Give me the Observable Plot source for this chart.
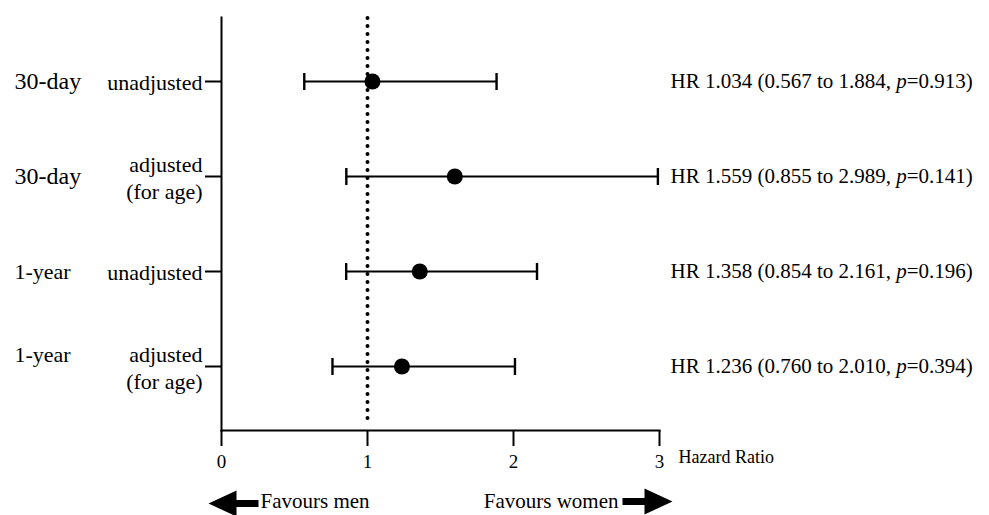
<!DOCTYPE html>
<html>
<head>
<meta charset="utf-8">
<script src="https://cdn.jsdelivr.net/npm/d3@7"></script>
<script src="https://cdn.jsdelivr.net/npm/@observablehq/plot@0.6"></script>
<style>
  html, body { margin: 0; padding: 0; background: #fff; }
  #chart svg { display: block; }
</style>
</head>
<body>
<div id="chart"></div>
<script>
// ---- data ----
const rowIds = ["30d-unadj", "30d-adj", "1y-unadj", "1y-adj"];
const periods = ["30-day", "30-day", "1-year", "1-year"];
const models = ["unadjusted", "adjusted\n(for age)", "unadjusted", "adjusted\n(for age)"];
const hrPoint = [1.034, 1.598, 1.358, 1.236];
const ciLow = [0.567, 0.855, 0.854, 0.760];
const ciHigh = [1.884, 2.989, 2.161, 2.010];
const hrLabels = [
  "HR 1.034 (0.567 to 1.884, p=0.913)",
  "HR 1.559 (0.855 to 2.989, p=0.141)",
  "HR 1.358 (0.854 to 2.161, p=0.196)",
  "HR 1.236 (0.760 to 2.010, p=0.394)"
];
const xTicks = [0, 1, 2, 3];
const xDomain = [0, 3];
const referenceHR = [1];
const axisTitle = "Hazard Ratio";
const favourMen = "Favours men";
const favourWomen = "Favours women";

const rows = rowIds.map((id, i) => ({
  id, period: periods[i], model: models[i],
  hr: hrPoint[i], lo: ciLow[i], hi: ciHigh[i], label: hrLabels[i]
}));
const modelById = Object.fromEntries(rows.map(d => [d.id, d.model]));

// ---- custom symbols ----
const capSymbol = {
  draw(ctx, size) {
    const r = Math.sqrt(size / Math.PI);
    ctx.moveTo(0, -r); ctx.lineTo(0, r);
  }
};
const arrowSymbol = {
  draw(ctx, size) {
    const s = Math.sqrt(size / Math.PI);
    const L = 2.5 * s, head = 2.8 * s, hh = 1.3 * s, sh = 0.35 * s;
    ctx.moveTo(-L, -sh);
    ctx.lineTo(L - head, -sh);
    ctx.lineTo(L - head, -hh);
    ctx.lineTo(L, 0);
    ctx.lineTo(L - head, hh);
    ctx.lineTo(L - head, sh);
    ctx.lineTo(-L, sh);
    ctx.closePath();
  }
};

const font = "'Liberation Serif', 'Times New Roman', serif";

const chart = Plot.plot({
  width: 989,
  height: 515,
  marginLeft: 221,
  marginRight: 330,
  marginTop: 17,
  marginBottom: 85,
  style: { fontFamily: font, color: "#000", background: "#fff", overflow: "visible" },
  x: { domain: xDomain, ticks: xTicks },
  y: { type: "point", domain: rowIds, padding: 0.67 },
  marks: [
    Plot.frame({ anchor: "left", stroke: "#000", strokeWidth: 2 }),
    Plot.frame({ anchor: "bottom", stroke: "#000", strokeWidth: 2 }),
    Plot.axisX({ ticks: xTicks, tickSize: 16, tickPadding: 8, fontSize: 19, strokeWidth: 2, label: null, tickFormat: d => String(d) }),
    Plot.axisY({ tickSize: 16, tickPadding: 3, fontSize: 22, lineHeight: 1.25, strokeWidth: 2, label: null, tickFormat: id => modelById[id] }),
    Plot.ruleX(referenceHR, { stroke: "#000", strokeWidth: 4, strokeDasharray: "0 8", strokeLinecap: "round", insetTop: 1, insetBottom: 7 }),
    Plot.ruleY(rows, { y: "id", x1: "lo", x2: "hi", stroke: "#000", strokeWidth: 2 }),
    Plot.dot(rows, { x: "lo", y: "id", symbol: capSymbol, r: 8.5, stroke: "#000", strokeWidth: 2.4, fill: "none" }),
    Plot.dot(rows, { x: "hi", y: "id", symbol: capSymbol, r: 8.5, stroke: "#000", strokeWidth: 2.4, fill: "none" }),
    Plot.dot(rows, { x: "hr", y: "id", r: 8, fill: "#000", stroke: "none" }),
    Plot.text(rows.slice(0, 3), { y: "id", text: "period", frameAnchor: "left", dx: -207, textAnchor: "start", fontSize: d => d.period === "30-day" ? 24 : 22, fill: "#000" }),
    Plot.text(rows.slice(3), { y: "id", text: "period", frameAnchor: "left", dx: -207, dy: -12, textAnchor: "start", fontSize: 22, fill: "#000" }),
    Plot.text(rows, { y: "id", text: "label", frameAnchor: "right", dx: 11, textAnchor: "start", fontSize: 21, fill: "#000" }),
    Plot.text([axisTitle], { text: d => d, frameAnchor: "bottom-right", dx: 19, dy: 32, textAnchor: "start", fontSize: 18, fill: "#000" }),
    Plot.dot([favourMen], { frameAnchor: "bottom-left", dx: 12, dy: 73, symbol: arrowSymbol, r: 10, rotate: 180, fill: "#000", stroke: "none" }),
    Plot.dot([favourWomen], { frameAnchor: "bottom-right", dx: -12, dy: 71, symbol: arrowSymbol, r: 10, fill: "#000", stroke: "none" }),
    Plot.text([favourMen], { text: d => d, frameAnchor: "bottom-left", dx: 39, dy: 77, textAnchor: "start", fontSize: 21, fill: "#000" }),
    Plot.text([favourWomen], { text: d => d, frameAnchor: "bottom-right", dx: -41, dy: 77, textAnchor: "end", fontSize: 21, fill: "#000" })
  ]
});

// italicise the "p" in the p-value labels
chart.querySelectorAll("text").forEach(t => {
  const s = t.textContent;
  const k = s.indexOf(", p=");
  if (k >= 0 && t.children.length === 0) {
    const ns = "http://www.w3.org/2000/svg";
    t.textContent = "";
    const a = document.createElementNS(ns, "tspan"); a.textContent = s.slice(0, k + 2);
    const b = document.createElementNS(ns, "tspan"); b.textContent = "p"; b.setAttribute("font-style", "italic");
    const c = document.createElementNS(ns, "tspan"); c.textContent = s.slice(k + 3);
    t.append(a, b, c);
  }
});

document.getElementById("chart").appendChild(chart);
</script>
</body>
</html>
